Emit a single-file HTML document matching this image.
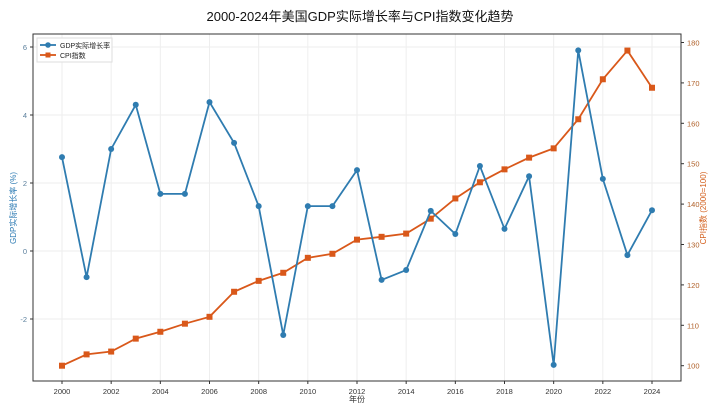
<!DOCTYPE html>
<html><head><meta charset="utf-8"><style>
body{margin:0;background:#fff;}
svg text{font-family:"Liberation Sans","Noto Sans CJK SC",sans-serif;}
</style></head><body>
<svg id="c" width="720" height="410" viewBox="0 0 720 410"></svg>
<script>
const years=[2000,2001,2002,2003,2004,2005,2006,2007,2008,2009,2010,2011,2012,2013,2014,2015,2016,2017,2018,2019,2020,2021,2022,2023,2024];
const gdp=[2.76,-0.77,3.0,4.3,1.68,1.68,4.38,3.18,1.32,-2.47,1.32,1.32,2.38,-0.85,-0.56,1.18,0.5,2.5,0.65,2.2,-3.35,5.9,2.12,-0.12,1.2];
const cpi=[100,102.8,103.5,106.7,108.4,110.4,112.1,118.3,121,123,126.7,127.7,131.2,131.9,132.7,136.4,141.4,145.4,148.6,151.5,153.8,161,170.9,178,168.8];
const xTicks=[2000,2002,2004,2006,2008,2010,2012,2014,2016,2018,2020,2022,2024];
const yLTicks=[-2,0,2,4,6];
const yRTicks=[100,110,120,130,140,150,160,170,180];
const NS="http://www.w3.org/2000/svg",svg=document.getElementById('c');
const L=33,R=681,T=34,B=381;
const x=v=>62+(v-2000)*(652-62)/24;
const yl=v=>251-v*34;
const yr=v=>365.7-(v-100)*4.04;
function mk(t,a,p){const e=document.createElementNS(NS,t);for(const k in a)e.setAttribute(k,a[k]);(p||svg).appendChild(e);return e;}
let e;
e=mk('text',{x:360,y:21,'text-anchor':'middle','font-size':13,fill:'#111'});e.textContent='2000-2024年美国GDP实际增长率与CPI指数变化趋势';


xTicks.forEach(v=>{e=mk('line',{x1:x(v),x2:x(v),y1:T,y2:B,stroke:'#eee'});


e=mk('line',{x1:x(v),x2:x(v),y1:B,y2:B+3,stroke:'#333'});
e=mk('text',{x:x(v),y:B+13,'text-anchor':'middle','font-size':7.5,fill:'#333'});e.textContent=v;

});
yLTicks.forEach(v=>{e=mk('line',{x1:L,x2:R,y1:yl(v),y2:yl(v),stroke:'#eee'});


mk('line',{x1:L-3,x2:L,y1:yl(v),y2:yl(v),stroke:'#333'});
e=mk('text',{x:L-6,y:yl(v)+3,'text-anchor':'end','font-size':7.5,fill:'#5a7f9c'});e.textContent=v;

});
yRTicks.forEach(v=>{mk('line',{x1:R,x2:R+3,y1:yr(v),y2:yr(v),stroke:'#333'});
e=mk('text',{x:R+6,y:yr(v)+3,'font-size':7.5,fill:'#b0612a'});e.textContent=v;

});
e=mk('rect',{x:L,y:T,width:R-L,height:B-T,fill:'none',stroke:'#333','stroke-width':1});


e=mk('text',{x:357,y:402,'text-anchor':'middle','font-size':8,fill:'#333'});e.textContent='年份';


e=mk('text',{x:0,y:0,'text-anchor':'middle','font-size':8,fill:'#2f7cb4',transform:'translate(16,208) rotate(-90)'});e.textContent='GDP实际增长率 (%)';


e=mk('text',{x:0,y:0,'text-anchor':'middle','font-size':8,fill:'#d35f1c',transform:'translate(706,208) rotate(-90)'});e.textContent='CPI指数 (2000=100)';


const cB='#2f7cb0',cO='#d9581a';
e=mk('polyline',{points:years.map((y,i)=>x(y)+','+yr(cpi[i])).join(' '),fill:'none',stroke:cO,'stroke-width':1.8});


years.forEach((y,i)=>{e=mk('rect',{x:x(y)-3,y:yr(cpi[i])-3,width:6,height:6,fill:cO});

});
e=mk('polyline',{points:years.map((y,i)=>x(y)+','+yl(gdp[i])).join(' '),fill:'none',stroke:cB,'stroke-width':1.8});


years.forEach((y,i)=>{e=mk('circle',{cx:x(y),cy:yl(gdp[i]),r:3,fill:cB});

});
const lg=mk('g',{});


mk('rect',{x:37,y:38,width:75,height:24,fill:'#fff',stroke:'#ddd'},lg);
mk('line',{x1:40,x2:56,y1:45,y2:45,stroke:cB,'stroke-width':1.8},lg);mk('circle',{cx:48,cy:45,r:2.8,fill:cB},lg);
e=mk('text',{x:60,y:48,'font-size':7,fill:'#222'},lg);e.textContent='GDP实际增长率';
mk('line',{x1:40,x2:56,y1:55,y2:55,stroke:cO,'stroke-width':1.8},lg);mk('rect',{x:45.5,y:52.5,width:5,height:5,fill:cO},lg);
e=mk('text',{x:60,y:58,'font-size':7,fill:'#222'},lg);e.textContent='CPI指数';
</script>
</body></html>
